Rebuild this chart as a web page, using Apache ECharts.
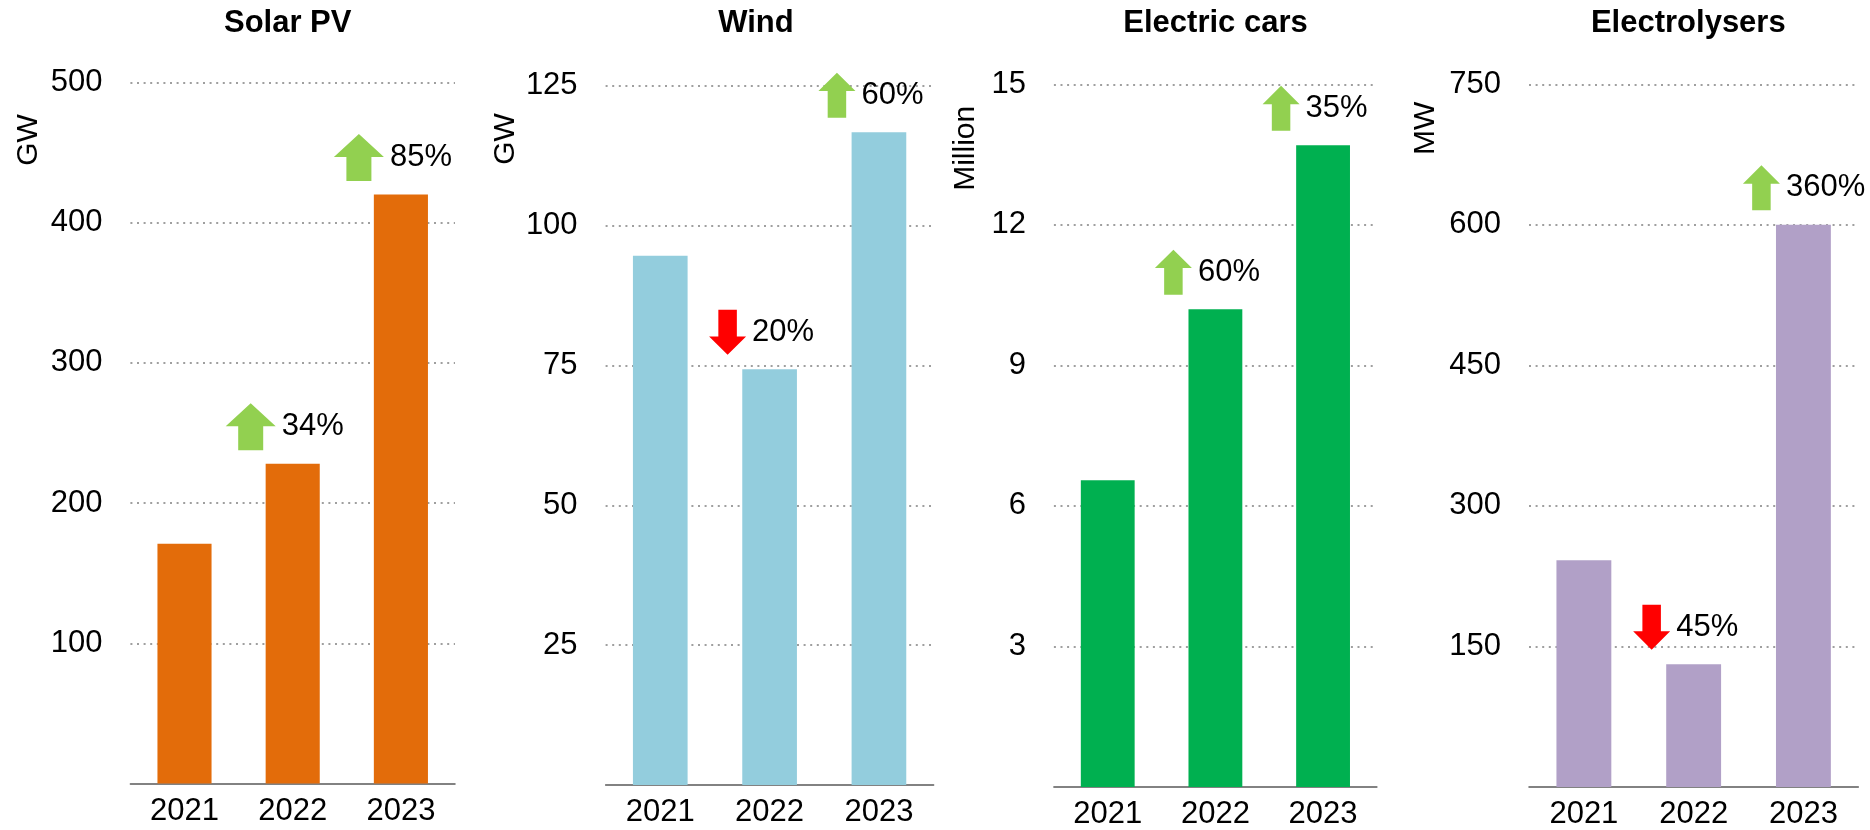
<!DOCTYPE html>
<html>
<head>
<meta charset="utf-8">
<title>Clean energy deployment 2021-2023</title>
<script src="https://cdn.jsdelivr.net/npm/echarts@6/dist/echarts.min.js"></script>
<style>
  html, body { margin: 0; padding: 0; background: #fff; }
  #main { width: 1870px; height: 830px; }
</style>
</head>
<body>
<div id="main"></div>
<script>
  // data
  var years = ['2021', '2022', '2023'];

  var panelTitles = ['Solar PV', 'Wind', 'Electric cars', 'Electrolysers'];
  var unitNames = ['GW', 'GW', 'Million', 'MW'];

  var solarGW = [171, 228, 420];
  var windGW = [94.6, 74.3, 116.7];
  var carsMillion = [6.55, 10.2, 13.7];
  var electrolysersMW = [242, 131, 600];

  // year-on-year change shown next to the arrows (%)
  var solarChange = [null, 34, 85];
  var windChange = [null, -20, 60];
  var carsChange = [null, 60, 35];
  var electrolysersChange = [null, -45, 360];

  // y axis ticks
  var axisMax = [500, 125, 15, 750];
  var axisStep = [100, 25, 3, 150];

  var values = [solarGW, windGW, carsMillion, electrolysersMW];
  var changes = [solarChange, windChange, carsChange, electrolysersChange];

  var barColors = ['#E36C0A', '#93CDDD', '#00B050', '#B1A0C7'];
  var upColor = '#92D050';
  var downColor = '#FF0000';
  var font = '"Liberation Sans", Arial, sans-serif';

  // placement of each small chart
  var layout = [
    {left: 130.4, width: 324.6, top: 82.3, height: 701.2, titleX: 287.7, nameX: 28.3, nameY: 140, arrowW: 50, arrowH: 47, head: 49},
    {left: 605.6, width: 328, top: 85.7, height: 699.3, titleX: 756, nameX: 505.8, nameY: 139, arrowW: 37, arrowH: 45, head: 41},
    {left: 1053.9, width: 323, top: 84.3, height: 703, titleX: 1215.5, nameX: 965.3, nameY: 148.3, arrowW: 37, arrowH: 45, head: 41},
    {left: 1529, width: 329.3, top: 84.3, height: 703.2, titleX: 1688.3, nameX: 1425.8, nameY: 128.3, arrowW: 37, arrowH: 45, head: 41}
  ];

  function upArrow(h) {
    return 'path://M50,0 L100,' + h + ' L75,' + h + ' L75,100 L25,100 L25,' + h + ' L0,' + h + ' Z';
  }
  function downArrow(h) {
    var b = 100 - h;
    return 'path://M25,0 L75,0 L75,' + b + ' L100,' + b + ' L50,100 L0,' + b + ' L25,' + b + ' Z';
  }

  var option = {
    animation: false,
    backgroundColor: '#fff',
    title: [],
    grid: [],
    xAxis: [],
    yAxis: [],
    series: [],
    graphic: []
  };

  layout.forEach(function (lay, i) {
    option.title.push({
      text: panelTitles[i],
      left: lay.titleX,
      top: 8,
      textAlign: 'center',
      padding: 0,
      textStyle: {fontSize: 31, fontWeight: 'bold', color: '#000', fontFamily: font}
    });

    option.grid.push({left: lay.left, top: lay.top, width: lay.width, height: lay.height});

    option.xAxis.push({
      type: 'category',
      gridIndex: i,
      data: years,
      axisLine: {lineStyle: {color: '#595959', width: 1.5}},
      axisTick: {show: false},
      axisLabel: {fontSize: 31, color: '#000', margin: 12, fontFamily: font}
    });

    option.yAxis.push({
      type: 'value',
      gridIndex: i,
      min: 0,
      max: axisMax[i],
      interval: axisStep[i],
      axisLine: {show: false},
      axisTick: {show: false},
      axisLabel: {fontSize: 31, color: '#000', margin: 28, fontFamily: font, showMinLabel: false},
      splitLine: {show: true, showMinLine: false, lineStyle: {color: '#9f9f9f', width: 2, type: [2, 4.6]}}
    });

    option.series.push({
      type: 'bar',
      xAxisIndex: i,
      yAxisIndex: i,
      barWidth: '50%',
      itemStyle: {color: barColors[i]},
      data: values[i]
    });

    // arrows with the % change
    var arrowData = [];
    changes[i].forEach(function (c, j) {
      if (c === null) return;
      arrowData.push({
        value: [years[j], values[i][j]],
        symbol: c > 0 ? upArrow(lay.head) : downArrow(lay.head),
        itemStyle: {color: c > 0 ? upColor : downColor, opacity: 1},
        label: {formatter: Math.abs(c) + '%'}
      });
    });
    option.series.push({
      type: 'scatter',
      xAxisIndex: i,
      yAxisIndex: i,
      silent: true,
      z: 3,
      symbolSize: [lay.arrowW, lay.arrowH],
      symbolKeepAspect: false,
      symbolOffset: [-42, -37],
      itemStyle: {opacity: 1},
      label: {show: true, position: 'right', distance: 6, fontSize: 31, color: '#000', opacity: 1, fontFamily: font},
      data: arrowData
    });

    option.graphic.push({
      type: 'text',
      x: lay.nameX,
      y: lay.nameY,
      rotation: Math.PI / 2,
      silent: true,
      style: {
        text: unitNames[i],
        fontSize: 30,
        fontFamily: font,
        fill: '#000',
        align: 'center',
        verticalAlign: 'middle'
      }
    });
  });

  var chart = echarts.init(document.getElementById('main'));
  chart.setOption(option);
</script>
</body>
</html>
